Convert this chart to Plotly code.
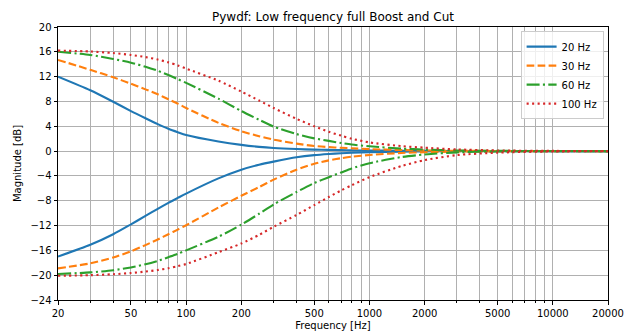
import plotly.graph_objects as go

freqs = [20, 30, 40, 50, 60, 70, 80, 90, 100, 150, 200, 250, 300, 400, 500, 600, 700, 800,
         1000, 1500, 2000, 3000, 5000, 10000, 20000]

labels = ["20 Hz", "30 Hz", "60 Hz", "100 Hz"]

boost_20 = [12.0, 9.8, 7.95, 6.45, 5.3, 4.35, 3.6, 3.05, 2.6, 1.55, 1.0, 0.68, 0.5, 0.33, 0.24, 0.19, 0.15, 0.12,
            0.09, 0.05, 0.03, 0.02, 0.01, 0.0, 0.0]
cut_20 = [-17.0, -15.1, -13.4, -11.8, -10.45, -9.3, -8.35, -7.55, -6.85, -4.4, -3.0, -2.2, -1.7, -1.0, -0.65, -0.47, -0.35, -0.27,
          -0.17, -0.08, -0.05, -0.02, -0.01, 0.0, 0.0]

boost_30 = [14.7, 13.1, 11.9, 10.85, 9.95, 9.15, 8.35, 7.65, 6.95, 4.55, 3.2, 2.4, 1.85, 1.2, 0.82, 0.65, 0.53, 0.45,
            0.32, 0.17, 0.1, 0.05, 0.02, 0.01, 0.0]
cut_30 = [-18.9, -18.1, -17.15, -16.15, -15.15, -14.25, -13.4, -12.65, -11.95, -9.1, -7.2, -5.8, -4.6, -3.0, -2.05, -1.5, -1.15, -0.9,
          -0.62, -0.3, -0.18, -0.08, -0.03, -0.01, 0.0]

boost_60 = [16.0, 15.5, 14.85, 14.25, 13.6, 12.95, 12.25, 11.6, 11.0, 8.45, 6.45, 5.05, 3.95, 2.75, 2.05, 1.65, 1.3, 1.05,
            0.78, 0.4, 0.25, 0.1, 0.04, 0.01, 0.0]
cut_60 = [-19.8, -19.55, -19.2, -18.75, -18.25, -17.7, -17.1, -16.55, -16.0, -13.8, -11.85, -10.1, -8.6, -6.6, -5.15, -4.2, -3.45, -2.8,
          -1.95, -0.95, -0.55, -0.2, -0.06, -0.01, 0.0]

boost_100 = [16.2, 16.05, 15.8, 15.5, 15.15, 14.75, 14.3, 13.8, 13.3, 11.35, 9.6, 8.15, 6.95, 5.2, 4.0, 3.1, 2.5, 2.0,
             1.4, 0.8, 0.55, 0.27, 0.1, 0.03, 0.01]
cut_100 = [-20.1, -20.0, -19.85, -19.65, -19.42, -19.17, -18.88, -18.55, -18.2, -16.3, -14.9, -13.5, -12.2, -10.3, -8.7, -7.4, -6.35, -5.5,
           -4.2, -2.4, -1.45, -0.65, -0.25, -0.06, -0.02]

x_tickvals = [20, 50, 100, 200, 500, 1000, 2000, 5000, 10000, 20000]
x_ticktext = ["20", "50", "100", "200", "500", "1000", "2000", "5000", "10000", "20000"]
x_minor = [30, 40, 60, 70, 80, 90, 300, 400, 600, 700, 800, 900,
           3000, 4000, 6000, 7000, 8000, 9000]
y_tickvals = [-24, -20, -16, -12, -8, -4, 0, 4, 8, 12, 16, 20]

colors = ["#1f77b4", "#ff7f0e", "#2ca02c", "#d62728"]
dashes = ["solid", "7.7px,3.3px", "13px,3.3px,2.1px,3.3px", "2.1px,3.4px"]

boosts = [boost_20, boost_30, boost_60, boost_100]
cuts = [cut_20, cut_30, cut_60, cut_100]

fig = go.Figure()
for i in range(4):
    for j, series in enumerate([boosts[i], cuts[i]]):
        fig.add_trace(go.Scatter(
            x=freqs, y=series, mode="lines", name=labels[i],
            showlegend=(j == 0),
            line=dict(color=colors[i], width=2.1, dash=dashes[i], shape="spline", smoothing=0.7),
        ))

font = "DejaVu Sans, Arial, sans-serif"
fig.update_layout(
    width=630, height=334,
    margin=dict(l=58, r=22, t=27, b=34),
    paper_bgcolor="white", plot_bgcolor="white",
    font=dict(family=font, size=10, color="black"),
    title=dict(text="Pywdf: Low frequency full Boost and Cut", x=0.5, xanchor="center",
               xref="paper", yref="container", y=0.949, yanchor="middle",
               font=dict(size=12, family=font)),
    legend=dict(x=0.992, xanchor="right", y=0.985, yanchor="top",
                bgcolor="rgba(255,255,255,0.8)", bordercolor="#cccccc", borderwidth=1,
                font=dict(size=10, family=font), tracegroupgap=0, itemwidth=30),
    showlegend=True,
)
fig.update_xaxes(
    type="log", range=[1.30103, 4.30103], automargin=False,
    tickmode="array", tickvals=x_tickvals, ticktext=x_ticktext,
    ticks="outside", ticklen=3.5, tickcolor="black",
    showgrid=True, gridcolor="#b0b0b0", gridwidth=0.9,
    minor=dict(tickmode="array", tickvals=x_minor, ticks="outside", ticklen=2,
               tickcolor="black", showgrid=True, gridcolor="#b0b0b0", gridwidth=0.9),
    showline=True, linecolor="black", linewidth=1, mirror=True,
    zeroline=False,
    title=dict(text="Frequency [Hz]", font=dict(size=10, family=font), standoff=4),
    tickfont=dict(size=10),
)
fig.update_yaxes(
    range=[-24, 20], tickmode="array", tickvals=y_tickvals, automargin=False,
    ticks="outside", ticklen=3.5, tickcolor="black",
    showgrid=True, gridcolor="#b0b0b0", gridwidth=0.9,
    showline=True, linecolor="black", linewidth=1, mirror=True,
    zeroline=False,
    title=dict(text="Magnitude [dB]", font=dict(size=10, family=font), standoff=6),
    tickfont=dict(size=10),
)

fig.write_html("out.html")
